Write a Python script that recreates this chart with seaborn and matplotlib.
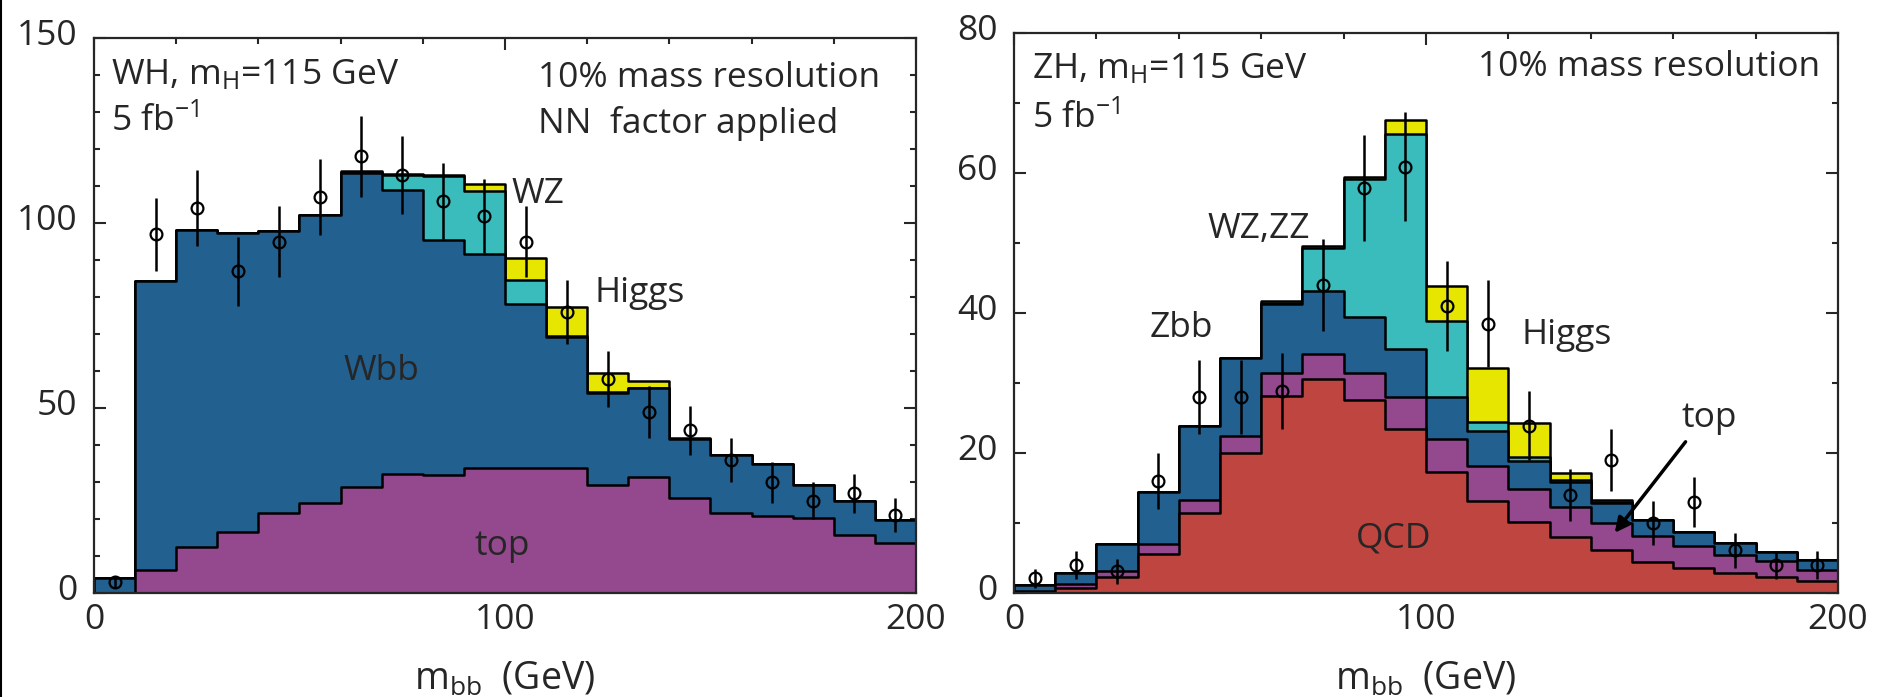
import numpy as np
import matplotlib
matplotlib.use("Agg")
import matplotlib.pyplot as plt
import matplotlib.transforms as mtransforms
from matplotlib.lines import Line2D
from matplotlib.ticker import MultipleLocator
import seaborn as sns

sns.set_style("ticks")
plt.rcParams["font.family"] = ["Open Sans", "DejaVu Sans"]
plt.rcParams["mathtext.default"] = "regular"

# ---------------- data ----------------
edges = list(range(0, 210, 10))
centers = [5, 15, 25, 35, 45, 55, 65, 75, 85, 95, 105, 115, 125, 135, 145, 155, 165, 175, 185, 195]

# WH panel (left)
wh_top = [0, 6.3, 12.4, 16.4, 21.5, 24.2, 28.7, 32.1, 32.0, 33.8, 33.8, 33.9, 29.2, 31.4, 25.8, 21.5, 20.9, 20.2, 15.7, 13.5]
wh_wbb = [4.0, 78.0, 85.8, 80.9, 76.3, 78.0, 84.8, 76.9, 63.3, 57.7, 44.2, 35.3, 24.8, 24.1, 15.8, 15.7, 13.9, 9.0, 9.3, 6.2]
wh_wz = [0, 0, 0, 0, 0, 0, 0.3, 4.0, 17.3, 17.1, 6.7, 0.3, 0.3, 0, 0, 0, 0, 0, 0, 0]
wh_higgs = [0, 0, 0, 0, 0, 0, 0.3, 0.3, 0.3, 2.0, 5.9, 7.7, 5.1, 1.8, 0.2, 0, 0, 0, 0, 0]
wh_data = [3.0, 96.9, 104.0, 87.0, 95.0, 107.0, 118.0, 112.9, 106.0, 101.9, 95.0, 76.0, 57.9, 48.9, 44.0, 35.9, 29.9, 25.0, 26.9, 21.1]
wh_err = [1.7, 9.8, 10.2, 9.3, 9.7, 10.3, 10.9, 10.6, 10.3, 10.1, 9.7, 8.7, 7.6, 7.0, 6.6, 6.0, 5.5, 5.0, 5.2, 4.6]

# ZH panel (right)
zh_qcd = [0.1, 0.7, 2.3, 5.6, 11.4, 20.0, 28.2, 30.6, 27.6, 23.5, 17.3, 13.2, 10.2, 8.0, 6.1, 4.5, 3.6, 2.8, 2.3, 1.7]
zh_top = [0.2, 0.6, 0.8, 1.4, 1.9, 2.5, 3.3, 3.6, 3.8, 4.5, 4.7, 5.0, 4.7, 4.3, 3.9, 3.6, 3.1, 2.7, 2.3, 1.6]
zh_zbb = [0.9, 1.6, 3.9, 7.5, 10.5, 11.1, 9.8, 9.0, 8.0, 6.9, 6.0, 5.0, 4.0, 3.6, 2.8, 2.4, 2.0, 1.6, 1.2, 1.4]
zh_wzzz = [0, 0, 0, 0, 0, 0, 0.2, 6.1, 19.8, 30.7, 10.8, 1.3, 0.5, 0.3, 0.2, 0, 0, 0, 0, 0]
zh_higgs = [0, 0, 0, 0, 0, 0, 0.2, 0.2, 0.3, 1.9, 5.1, 7.6, 4.9, 1.0, 0.3, 0, 0, 0, 0, 0]
zh_data = [2.1, 4.0, 3.1, 16.0, 28.0, 28.0, 28.9, 44.0, 57.9, 60.9, 41.0, 38.5, 23.9, 14.0, 19.0, 10.0, 13.0, 6.1, 4.0, 4.0]
zh_err = [1.4, 2.0, 1.8, 4.0, 5.3, 5.3, 5.4, 6.6, 7.6, 7.8, 6.4, 6.2, 4.9, 3.7, 4.4, 3.2, 3.6, 2.5, 2.0, 2.0]

C_BLUE = "#22608f"
C_PURPLE = "#94488e"
C_RED = "#bf4540"
C_TEAL = "#3bbcbc"
C_YELLOW = "#e6e600"

FS = 25.5

fig = plt.figure(figsize=(18.81, 6.97), dpi=100)
axL = fig.add_axes([94 / 1881, 104 / 697, 822 / 1881, 555 / 697])
axR = fig.add_axes([1014 / 1881, 104 / 697, 824 / 1881, 560 / 697])


def draw_stack(ax, layers, colors):
    # layers bottom -> top; draw cumulative totals from the top down
    cum = np.cumsum(np.array(layers, dtype=float), axis=0)
    for k in range(len(layers) - 1, -1, -1):
        sns.histplot(x=centers, weights=cum[k], bins=edges, element="step",
                     fill=True, color=colors[k], alpha=1, edgecolor="black",
                     linewidth=1.8, ax=ax)


def style_axes(ax, ymax, ymaj, ymin):
    ax.set_xlim(0, 200)
    ax.set_ylim(0, ymax)
    ax.set_ylabel("")
    ax.xaxis.set_major_locator(MultipleLocator(100))
    ax.xaxis.set_minor_locator(MultipleLocator(20))
    ax.yaxis.set_major_locator(MultipleLocator(ymaj))
    ax.yaxis.set_minor_locator(MultipleLocator(ymin))
    ax.tick_params(which="both", direction="in", top=True, right=True,
                   width=1.5, labelsize=FS)
    ax.tick_params(which="major", length=8.5)
    ax.tick_params(which="minor", length=4.5)
    ax.tick_params(axis="x", which="major", pad=7)
    ax.tick_params(axis="y", which="major", pad=12)
    for s in ax.spines.values():
        s.set_linewidth(1.6)
        s.set_visible(True)
    ax.set_xlabel("m$_{bb}$  (GeV)", fontsize=27, labelpad=17)
    off = mtransforms.ScaledTranslation(0, 6 / 100, fig.dpi_scale_trans)
    for lab in ax.get_yticklabels():
        lab.set_transform(lab.get_transform() + off)


def draw_data(ax, data, err):
    ax.errorbar(centers, data, yerr=err, fmt="o", ms=8.5, mfc="none",
                mec="black", mew=1.6, ecolor="black", elinewidth=1.8,
                capsize=0, zorder=6)


# ---------- left panel ----------
draw_stack(axL, [wh_top, wh_wbb, wh_wz, wh_higgs], [C_PURPLE, C_BLUE, C_TEAL, C_YELLOW])
draw_data(axL, wh_data, wh_err)
style_axes(axL, 150, 50, 10)
axL.text(4.1, 137.6, "WH, m$_H$=115 GeV", fontsize=FS, va="baseline")
axL.text(4.1, 124.9, "5 fb$^{-1}$", fontsize=FS, va="baseline")
axL.text(108.0, 136.8, "10% mass resolution", fontsize=FS, va="baseline")
axL.text(108.0, 124.4, "NN  factor applied", fontsize=FS, va="baseline")
axL.text(101.6, 105.4, "WZ", fontsize=FS, va="baseline")
axL.text(121.7, 78.7, "Higgs", fontsize=FS, va="baseline")
axL.text(70, 57.6, "Wbb", fontsize=FS, va="baseline", ha="center")
axL.text(99.3, 10.3, "top", fontsize=FS, va="baseline", ha="center")

# ---------- right panel ----------
draw_stack(axR, [zh_qcd, zh_top, zh_zbb, zh_wzzz, zh_higgs],
           [C_RED, C_PURPLE, C_BLUE, C_TEAL, C_YELLOW])
draw_data(axR, zh_data, zh_err)
style_axes(axR, 80, 20, 10)
axR.text(4.4, 73.6, "ZH, m$_H$=115 GeV", fontsize=FS, va="baseline")
axR.text(4.4, 66.5, "5 fb$^{-1}$", fontsize=FS, va="baseline")
axR.text(195.6, 73.9, "10% mass resolution", fontsize=FS, va="baseline", ha="right")
axR.text(71.9, 50.7, "WZ,ZZ", fontsize=FS, va="baseline", ha="right")
axR.text(32.8, 36.6, "Zbb", fontsize=FS, va="baseline")
axR.text(123.2, 35.5, "Higgs", fontsize=FS, va="baseline")
axR.text(168.8, 23.7, "top", fontsize=FS, va="baseline", ha="center")
axR.text(92.2, 6.5, "QCD", fontsize=FS, va="baseline", ha="center")
axR.annotate("", xy=(145.8, 8.6), xytext=(163.0, 21.6),
             arrowprops=dict(arrowstyle="-|>", lw=2.5, color="black",
                             mutation_scale=22, shrinkA=0, shrinkB=0),
             zorder=7)

fig.add_artist(Line2D([1.5 / 1881, 1.5 / 1881], [0, 1], transform=fig.transFigure,
                      color="black", lw=1.5))

fig.savefig("out.png", dpi=100)
